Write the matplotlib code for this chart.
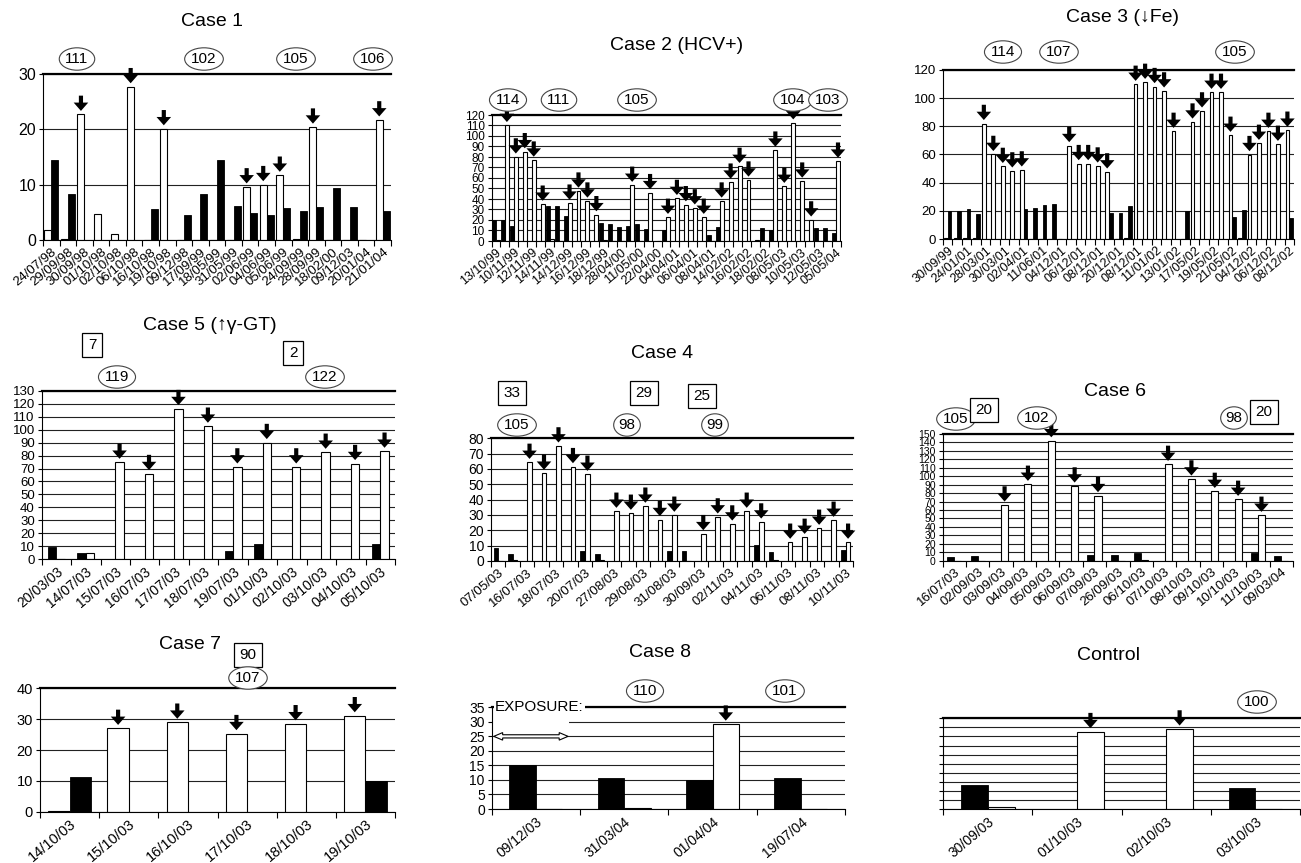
import numpy as np
import matplotlib
matplotlib.use('Agg')
import matplotlib.pyplot as plt
from matplotlib.patches import Polygon, Rectangle

plt.rcParams['font.family'] = ['Liberation Sans', 'DejaVu Sans']

W, H = 1301, 863

# ---- data (black = before, white = after exposure) ----
c1_dates = ['24/07/98', '29/09/98', '30/09/98', '01/10/98', '02/10/98', '06/10/98', '16/10/98',
            '19/10/98', '09/12/98', '17/09/99', '18/05/99', '31/05/99', '02/06/99', '04/06/99',
            '05/06/99', '24/09/99', '28/09/99', '18/02/00', '09/12/03', '20/01/04', '21/01/04']
c1_black = [14.5, 8.3, 0, 0, 0, 0, 5.6, 0, 4.5, 8.3, 14.5, 6.2, 4.8, 4.5, 5.8, 5.3, 6.0, 9.4, 6.0, 0, 5.2]
c1_white = [1.8, 0.2, 22.7, 4.7, 1.0, 27.7, 0, 20.1, 0, 0, 0, 0, 9.6, 10.0, 11.7, 0.2, 20.4, 0, 0, 0, 21.7]

c2_dates = ['13/10/99', '10/11/99', '12/11/99', '14/11/99', '14/12/99', '16/12/99', '18/12/99',
            '28/04/00', '11/05/00', '22/04/00', '04/04/01', '06/04/01', '08/04/01', '14/02/02',
            '16/02/02', '18/02/02', '08/05/03', '10/05/03', '12/05/03', '05/05/04']
c2_black = [20, 20, 14, 0, 0, 0, 33, 33, 24, 0, 0, 0, 17, 16, 13, 14, 16, 11, 0, 10, 0, 0, 0, 0,
            5.5, 13, 0, 0, 0, 0, 12, 10, 0, 0, 0, 0, 12, 12, 7.5]
c2_white = [1, 110, 80, 85, 77, 35, 2, 0, 36, 47.5, 38, 25, 1, 0, 0, 53, 0, 46, 0, 22.5, 40.5,
            34.5, 31.5, 22.5, 0, 38, 56, 71, 58, 1, 0, 86.5, 52, 112.5, 57, 20, 0, 0, 76]

c3_dates = ['30/09/99', '24/01/01', '28/03/01', '30/03/01', '02/04/01', '11/06/01', '04/12/01',
            '06/12/01', '08/12/01', '20/12/01', '08/12/01', '11/01/02', '13/01/02', '17/05/02',
            '19/05/02', '21/05/02', '04/12/02', '06/12/02', '08/12/02']
c3_white = [0.5, 0.5, 0.5, 0.5, 82, 60, 51.5, 48.3, 49, 0, 0, 0, 0, 66.3, 53.5, 53.5, 51.8, 47.6,
            0, 0.5, 109.8, 111.2, 108.2, 105.1, 76.4, 0, 83, 90.9, 104.1, 104.1, 73.6, 0.5,
            59.9, 67.9, 76.4, 67.2, 77.2]
c3_black = [20, 20, 21.3, 17.8, 0, 0, 0, 0, 21.3, 22.2, 24.1, 24.9, 0, 0, 0, 0, 0, 18.7, 18.7,
            23.4, 0, 0, 0, 0, 0, 19.9, 0, 0, 0, 0, 15.4, 20.6, 0, 0, 0, 0, 14.7]

c4_dates = ['07/05/03', '16/07/03', '18/07/03', '20/07/03', '27/08/03', '29/08/03', '31/08/03',
            '30/09/03', '02/11/03', '04/11/03', '06/11/03', '08/11/03', '10/11/03']
c4_black = [8.7, 4.4, 0, 0, 0, 0, 6.7, 4.4, 0, 0, 0, 0, 6.7, 6.7, 0, 0, 0, 0, 10.4, 6.1, 0, 0, 0, 0, 7.4]
c4_white = [0, 0.5, 64.3, 57.2, 75, 61.5, 56.5, 0.5, 32.4, 31.1, 35.7, 27, 29.8, 0, 17.8, 28.7,
            24.1, 32.4, 25.4, 0.5, 12.2, 15.4, 21.3, 26.5, 12.2]

c5_dates = ['20/03/03', '14/07/03', '15/07/03', '16/07/03', '17/07/03', '18/07/03', '19/07/03',
            '01/10/03', '02/10/03', '03/10/03', '04/10/03', '05/10/03']
c5_black = [9.8, 4.6, 0, 0, 0, 0, 6.2, 11.8, 0, 0, 0, 11.8]
c5_white = [0, 4.6, 74.8, 66.1, 116.2, 102.6, 71.2, 90, 71.2, 82.5, 73.8, 83.3]

c6_dates = ['16/07/03', '02/09/03', '03/09/03', '04/09/03', '05/09/03', '06/09/03', '07/09/03',
            '26/09/03', '06/10/03', '07/10/03', '08/10/03', '09/10/03', '10/10/03', '11/10/03', '09/03/04']
c6_black = [3.9, 5.5, 0, 0, 0, 0, 6.7, 6.7, 9.1, 0, 0, 0, 0, 9.1, 5.9]
c6_white = [0, 0, 65.9, 90.4, 142, 88.4, 77, 0, 1, 114, 96.7, 82, 72.6, 53.7, 0]

c7_dates = ['14/10/03', '15/10/03', '16/10/03', '17/10/03', '18/10/03', '19/10/03']
c7_white = [0.3, 27, 29, 25.3, 28.5, 31.1]
c7_black = [11.3, 0, 0, 0, 0, 9.9]

c8_dates = ['09/12/03', '31/03/04', '01/04/04', '19/07/04']
c8_black = [15, 10.5, 10.1, 10.8]
c8_white = [0, 0.3, 29.2, 0]

ct_dates = ['30/09/03', '01/10/03', '02/10/03', '03/10/03']
ct_black = [26.5, 0, 0, 22.8]
ct_white = [2.2, 85.3, 88.2, 0]

fig = plt.figure(figsize=(W / 100, H / 100), dpi=100)


def px_rect(l, t, r, b):
    return [l / W, 1 - b / H, (r - l) / W, (b - t) / H]


def panel(box, black, white, dates, ymax, ystep, step=1, width=0.3, white_first=False,
          yfs=10, xfs=9.5, ylabels=True):
    ax = fig.add_axes(px_rect(*box))
    n = len(black)
    x = np.arange(n)
    if white_first:
        xw, xb = x - width / 2, x + width / 2
    else:
        xb, xw = x - width / 2, x + width / 2
    ax.bar(xb, black, width, color='black', edgecolor='black', lw=0.6, zorder=2)
    ax.bar(xw, white, width, color='white', edgecolor='black', lw=0.8, zorder=2)
    # arrows on the "after" bars
    for xi, v in zip(xw, white):
        if v >= 8:
            ax.annotate('', xy=(xi, v), xytext=(0, 13.5), textcoords='offset points', zorder=4,
                        arrowprops=dict(arrowstyle='simple,head_width=1.05,head_length=0.6,tail_width=0.3',
                                        fc='black', ec='black', lw=0, shrinkA=0, shrinkB=2.5,
                                        mutation_scale=10))
    ax.set_xlim(-0.5, n - 0.5)
    ax.set_ylim(0, ymax)
    ax.set_yticks(np.arange(0, ymax + 0.1, ystep))
    ax.tick_params(axis='y', labelsize=yfs, length=3, pad=2, labelleft=ylabels)
    ax.set_xticks(np.arange(n + 1) - 0.5)
    ax.set_xticklabels([])
    ax.set_xticks(np.arange(0, n, step), minor=True)
    ax.set_xticklabels(dates, minor=True, rotation=40, ha='right', rotation_mode='anchor', fontsize=xfs)
    ax.tick_params(axis='x', which='major', length=4, width=0.8)
    ax.tick_params(axis='x', which='minor', length=0, pad=4)
    ax.yaxis.grid(True, color='#222222', lw=0.8)
    ax.set_axisbelow(True)
    ax.spines['right'].set_visible(False)
    ax.spines['top'].set_linewidth(1.6)
    return ax


def tag(txt, x, y, kind, fs=11):
    if kind == 'e':
        bb = dict(boxstyle='ellipse,pad=0.06', fc='white', ec='#444444', lw=0.8)
    else:
        bb = dict(boxstyle='square,pad=0.35', fc='white', ec='black', lw=0.9)
    fig.text(x / W, 1 - y / H, txt, ha='center', va='center', fontsize=fs, bbox=bb)


panel((43, 74, 391, 240), c1_black, c1_white, c1_dates, 30, 10, width=0.42, white_first=True,
      yfs=11.5, xfs=9.5)
panel((491.5, 115, 840.5, 241), c2_black, c2_white, c2_dates, 120, 10, step=2, width=0.44,
      yfs=8.5, xfs=9)
panel((943, 70, 1294, 239), c3_black, c3_white, c3_dates, 120, 20, step=2, width=0.39,
      white_first=True, yfs=9.5, xfs=9)
panel((41.7, 390.7, 395, 559.3), c5_black, c5_white, c5_dates, 130, 10, width=0.29, yfs=9.5, xfs=10)
panel((491, 438.3, 853, 561), c4_black, c4_white, c4_dates, 80, 10, step=2, width=0.32,
      yfs=10, xfs=9.5)
panel((942.7, 434, 1293, 560.7), c6_black, c6_white, c6_dates, 150, 10, width=0.3, yfs=7.5, xfs=9.5)
panel((40, 688.3, 395, 811.7), c7_black, c7_white, c7_dates, 40, 10, width=0.36, white_first=True,
      yfs=10.5, xfs=10.5)
ax8 = panel((491.7, 707.3, 845, 809), c8_black, c8_white, c8_dates, 35, 5, width=0.3, yfs=10, xfs=10)
panel((943.3, 718.3, 1300, 809), ct_black, ct_white, ct_dates, 100, 10, width=0.3,
      ylabels=False, xfs=10)

# exposure marker in case 8
tr = ax8.get_yaxis_transform()
ax8.add_patch(Rectangle((0.004, 28), 0.215, 4.5, transform=tr, fc='white', ec='none', zorder=1.5))
x0, x1, hl, hh, sh, yy = 0.006, 0.216, 0.025, 1.3, 0.55, 25
ax8.add_patch(Polygon([(x0, yy), (x0 + hl, yy + hh), (x0 + hl, yy + sh), (x1 - hl, yy + sh),
                       (x1 - hl, yy + hh), (x1, yy), (x1 - hl, yy - hh), (x1 - hl, yy - sh),
                       (x0 + hl, yy - sh), (x0 + hl, yy - hh)], closed=True, transform=tr,
                      fc='white', ec='black', lw=0.8, zorder=3))
ax8.text(0.01, 35, 'EXPOSURE:', transform=tr, ha='left', va='center', fontsize=11, zorder=5,
         bbox=dict(boxstyle='square,pad=0.1', fc='white', ec='none'))

# titles
for txt, x, y in [('Case 1', 212, 21), ('Case 2 (HCV+)', 677, 45), ('Case 3 (\u2193Fe)', 1123, 18),
                  ('Case 5 (\u2191\u03b3-GT)', 210, 325), ('Case 4', 662, 353), ('Case 6', 1115, 391),
                  ('Case 7', 190, 644), ('Case 8', 660, 652), ('Control', 1109, 655)]:
    fig.text(x / W, 1 - y / H, txt, ha='center', va='center', fontsize=14)

# sample-number ellipses and boxes
for t in [('111', 77, 59, 'e'), ('102', 204, 59, 'e'), ('105', 296, 59, 'e'), ('106', 373, 59, 'e'),
          ('114', 508, 100, 'e'), ('111', 559, 100, 'e'), ('105', 637, 100, 'e'), ('104', 793, 100, 'e'),
          ('103', 828, 100, 'e'),
          ('114', 1003, 52, 'e'), ('107', 1059, 52, 'e'), ('105', 1235, 52, 'e'),
          ('7', 92, 345, 'b'), ('2', 293, 353, 'b'), ('119', 117, 377, 'e'), ('122', 325, 377, 'e'),
          ('33', 512, 393, 'b'), ('29', 644, 393, 'b'), ('25', 702, 396, 'b'),
          ('105', 517, 425, 'e'), ('98', 627, 425, 'e'), ('99', 715, 425, 'e'),
          ('105', 956, 419, 'e'), ('20', 984, 410, 'b'), ('102', 1037, 418, 'e'), ('98', 1234, 418, 'e'),
          ('20', 1264, 412, 'b'),
          ('90', 248, 655, 'b'), ('107', 248, 678, 'e'),
          ('110', 645, 691, 'e'), ('101', 785, 691, 'e'),
          ('100', 1257, 702, 'e')]:
    tag(*t)

fig.savefig('out.png', dpi=100)
